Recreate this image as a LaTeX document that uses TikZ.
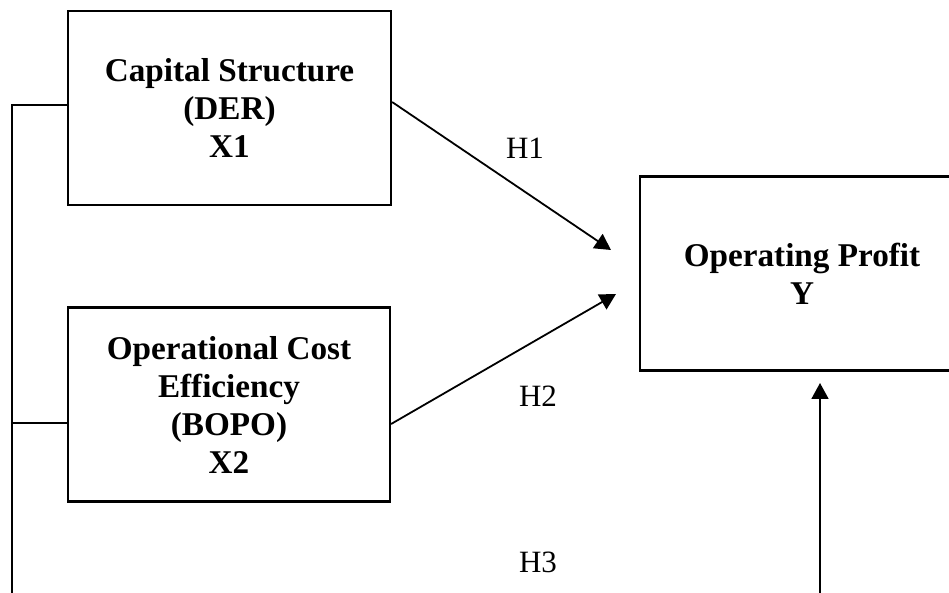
\documentclass[tikz,border=0pt]{standalone}
\usepackage{fontspec}
\setmainfont{Liberation Serif}
\usetikzlibrary{arrows.meta}

\begin{document}
\begin{tikzpicture}[x=0.5pt, y=-0.5pt,
    varbox/.style={draw, line width=1.1pt, align=center, inner sep=0pt,
        font=\fontsize{16.6}{19}\selectfont\bfseries, minimum height=97pt},
    hlabel/.style={font=\fontsize{15.5}{18}\selectfont},
    link/.style={line width=0.9pt, -{Triangle[length=8pt, width=8.5pt]}}]
    \useasboundingbox (0, 0) rectangle (949, 593);
    \clip (0, 0) rectangle (949, 593);

    \node[varbox, minimum width=161.5pt] (capital) at (229.5, 108) {Capital Structure\\(DER)\\X1};
    \node[varbox, minimum width=161pt] (bopo) at (229, 404.5) {Operational Cost\\Efficiency\\(BOPO)\\X2};
    \node[varbox, minimum width=162pt] (profit) at (802, 273.5) {Operating Profit\\Y};

    \node[hlabel] (h1) at (525, 148) {H1};
    \node[hlabel] (h2) at (538, 396) {H2};
    \node[hlabel] (h3) at (538, 562) {H3};

    \coordinate (t1) at (611, 250);
    \coordinate (t2) at (616, 294);
    \coordinate (t3) at (820, 383);
    \coordinate (b3) at (820, 593);
    \coordinate (bl) at (12, 593);

    \draw[link] (capital.east |- 0, 102) -- (t1);
    \draw[link] (bopo.east |- 0, 424) -- (t2);
    \draw[link] (b3) -- (t3);

    % frame on the left
    \draw[line width=0.9pt] (bl) |- (capital.west |- 0, 105);
    \draw[line width=0.9pt] (bl |- 0, 423) -- (bopo.west |- 0, 423);
\end{tikzpicture}
\end{document}
